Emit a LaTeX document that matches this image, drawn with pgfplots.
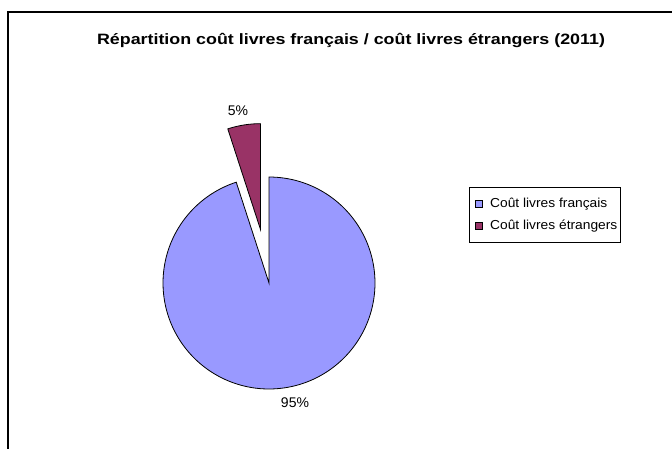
\documentclass[border=0pt]{standalone}
\usepackage{pgfplots}
\pgfplotsset{compat=1.18}
\usepackage{pgfplotstable}
\usepackage{fontspec}
\setmainfont{Liberation Sans}
\newfontfamily\titlefont{Liberation Sans}[FakeStretch=1.19]
\newfontfamily\legfont{Liberation Sans}[FakeStretch=1.06]
\definecolor{pieblue}{HTML}{9999FF}
\definecolor{piered}{HTML}{993366}

\pgfplotstableread{
label value
fr 95
et 5
}\piedata

\begin{document}
\begin{tikzpicture}
\pgfplotstablegetelem{0}{value}\of\piedata \let\vA\pgfplotsretval
\pgfplotstablegetelem{1}{value}\of\piedata \let\vB\pgfplotsretval
\pgfmathsetmacro\fracA{\vA/(\vA+\vB)}
\pgfmathsetmacro\fracB{\vB/(\vA+\vB)}
\pgfmathsetmacro\angA{360*\fracA}
\pgfmathsetmacro\angMid{\angA + 180*\fracB}
\def\cx{269}\def\cy{283}\def\R{106}\def\ex{54}
\pgfmathsetmacro\rcx{\cx+\ex*sin(\angMid)}
\pgfmathsetmacro\rcy{\cy-\ex*cos(\angMid)}
\begin{axis}[at={(0,0)}, anchor=south west, scale only axis,
  width=672pt, height=448pt, xmin=0, xmax=672, ymin=0, ymax=448,
  y dir=reverse, hide axis, clip=true,
  legend style={at={(axis cs:469,187)}, anchor=north west, draw=black,
    line width=0.8pt, font=\legfont\fontsize{13}{15}\selectfont,
    row sep=7pt, inner xsep=1pt, inner ysep=9pt},
  legend cell align=left,
  legend image code/.code={\path (-5pt,0pt) (12pt,0pt);\draw[#1, line width=0.7pt] (0pt,-3.3pt) rectangle (6.6pt,3.3pt);}]
% border
\addplot[black, line width=1.2pt, forget plot] coordinates {(8,480) (8,12) (700,12)};
% slices
\addplot[fill=pieblue, draw=black, line width=0.8pt, domain=0:\angA, samples=160, variable=\t]
  ({\cx+\R*sin(\t)}, {\cy-\R*cos(\t)}) -- (axis cs:\cx,\cy) -- cycle;
\addlegendentry{Coût livres français}
\addplot[fill=piered, draw=black, line width=0.8pt, domain=\angA:360, samples=20, variable=\t]
  ({\rcx+\R*sin(\t)}, {\rcy-\R*cos(\t)}) -- (axis cs:\rcx,\rcy) -- cycle;
\addlegendentry{Coût livres étrangers}
\node[font=\fontsize{14}{16}\selectfont] at (axis cs:238,111) {\vB\%};
\node[font=\fontsize{14}{16}\selectfont] at (axis cs:295,403) {\vA\%};
\node[font=\titlefont\bfseries\fontsize{15}{17}\selectfont] at (axis cs:351,40) {Répartition coût livres français / coût livres étrangers (2011)};
\end{axis}
\pgfresetboundingbox
\path (0,0) rectangle (672pt,448pt);
\end{tikzpicture}
\end{document}
